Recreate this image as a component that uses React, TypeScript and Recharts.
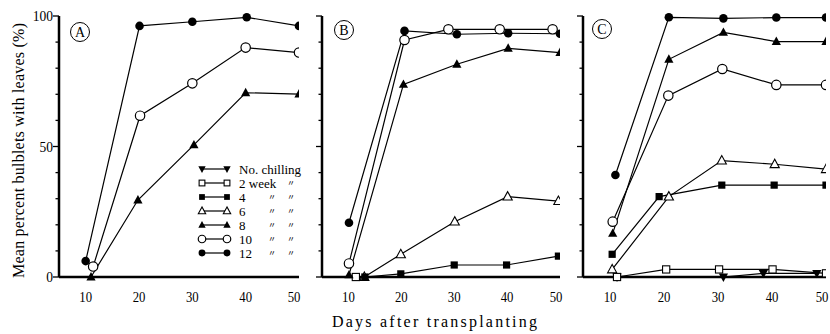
import React from 'react';
import { LineChart, Line, XAxis, YAxis, Customized } from 'recharts';

// ---------- data (day after transplanting, % bulblets with leaves) ----------
const dayTicks = [10, 20, 30, 40, 50];
const pctTicks = [0, 10, 20, 30, 40, 50, 60, 70, 80, 90, 100];
const pctLabels = [0, 50, 100];

const legendLabels = ['No. chilling', '2 week', '4', '6', '8', '10', '12'];

// Panel A
const a8 = [{ d: 11, v: 0 }, { d: 19.8, v: 29.5 }, { d: 30.3, v: 50.6 }, { d: 40, v: 70.6 }, { d: 50, v: 70.1 }];
const a10 = [{ d: 11.4, v: 4 }, { d: 20.2, v: 61.8 }, { d: 30, v: 74.2 }, { d: 40, v: 87.9 }, { d: 50, v: 86 }];
const a12 = [{ d: 10, v: 6.1 }, { d: 20.1, v: 96.2 }, { d: 30, v: 97.8 }, { d: 40.2, v: 99.5 }, { d: 50, v: 96.2 }];

// Panel B
const b2 = [{ d: 11.4, v: 0 }];
const b4 = [{ d: 13.1, v: 0 }, { d: 19.9, v: 1.2 }, { d: 30, v: 4.6 }, { d: 39.9, v: 4.6 }, { d: 49.7, v: 8 }];
const b6 = [{ d: 13, v: 0 }, { d: 19.9, v: 8.7 }, { d: 30.1, v: 21.2 }, { d: 40.1, v: 30.8 }, { d: 49.7, v: 29.1 }];
const b8 = [{ d: 10.1, v: 0.8 }, { d: 20.4, v: 73.8 }, { d: 30.5, v: 81.5 }, { d: 40.2, v: 87.6 }, { d: 50, v: 86 }];
const b10 = [{ d: 10.1, v: 5.2 }, { d: 20.6, v: 90.8 }, { d: 28.9, v: 94.9 }, { d: 38.6, v: 94.9 }, { d: 48.6, v: 94.9 }];
const b12 = [{ d: 10.1, v: 20.8 }, { d: 20.6, v: 94.3 }, { d: 30.5, v: 93 }, { d: 40.2, v: 93.4 }, { d: 50, v: 93.2 }];

// Panel C
const c0 = [{ d: 11.3, v: 0 }, { d: 31, v: 0 }, { d: 38.4, v: 1.4 }, { d: 48.3, v: 1.4 }];
const c2 = [{ d: 11.3, v: 0 }, { d: 20.4, v: 2.9 }, { d: 30.2, v: 2.9 }, { d: 40.1, v: 2.9 }, { d: 50, v: 1.4 }];
const c4 = [{ d: 10.4, v: 8.7 }, { d: 19.1, v: 30.8 }, { d: 30.7, v: 35.2 }, { d: 40.4, v: 35.2 }, { d: 50, v: 35.2 }];
const c6 = [{ d: 10.4, v: 2.9 }, { d: 20.9, v: 30.8 }, { d: 30.7, v: 44.6 }, { d: 40.5, v: 43.2 }, { d: 50, v: 41.3 }];
const c8 = [{ d: 10.5, v: 16.7 }, { d: 20.9, v: 83.4 }, { d: 31, v: 93.7 }, { d: 40.8, v: 90.2 }, { d: 50, v: 90.2 }];
const c10 = [{ d: 10.5, v: 21.2 }, { d: 20.8, v: 69.5 }, { d: 30.8, v: 79.7 }, { d: 40.8, v: 73.6 }, { d: 50, v: 73.6 }];
const c12 = [{ d: 11, v: 39.1 }, { d: 20.9, v: 99.5 }, { d: 31, v: 99.1 }, { d: 40.8, v: 99.4 }, { d: 50, v: 99.4 }];

// ---------- styling ----------
const FONT = 'Liberation Serif';
const CJK = 'Noto Sans CJK JP';
const INK = '#000';
const tStyle: React.CSSProperties = { fontFamily: FONT };

type Kind = 'fi' | 'os' | 'fs' | 'ot' | 'ft' | 'oc' | 'fc';
const legendKinds: Kind[] = ['fi', 'os', 'fs', 'ot', 'ft', 'oc', 'fc'];

function Marker({ cx, cy, kind, s = 1 }: { cx: number; cy: number; kind: Kind; s?: number }) {
  if (cx == null || cy == null) return null;
  switch (kind) {
    case 'fc':
      return <circle cx={cx} cy={cy} r={4.3 * s} fill={INK} />;
    case 'oc':
      return <circle cx={cx} cy={cy} r={4.7 * s} fill="#fff" stroke={INK} strokeWidth={1.2} />;
    case 'ft':
    case 'ot': {
      const pts = `${cx},${cy - 5 * s} ${cx - 4.6 * s},${cy + 3.4 * s} ${cx + 4.6 * s},${cy + 3.4 * s}`;
      return kind === 'ft' ? (
        <polygon points={pts} fill={INK} />
      ) : (
        <polygon points={pts} fill="#fff" stroke={INK} strokeWidth={1.1} />
      );
    }
    case 'fi': {
      const pts = `${cx},${cy + 5 * s} ${cx - 4.6 * s},${cy - 3.4 * s} ${cx + 4.6 * s},${cy - 3.4 * s}`;
      return <polygon points={pts} fill={INK} />;
    }
    case 'fs':
      return <rect x={cx - 3.6 * s} y={cy - 3.6 * s} width={7.2 * s} height={7.2 * s} fill={INK} />;
    case 'os':
      return <rect x={cx - 3.6 * s} y={cy - 3.6 * s} width={7.2 * s} height={7.2 * s} fill="#fff" stroke={INK} strokeWidth={1.1} />;
  }
  return null;
}

const dotFor = (id: string, kind: Kind) => (p: any) => (
  <Marker key={`${id}-${p.index}`} cx={p.cx} cy={p.cy} kind={kind} />
);

function series(id: string, data: { d: number; v: number }[], kind: Kind) {
  return (
    <Line
      key={id}
      data={data}
      dataKey="v"
      type="linear"
      stroke={INK}
      strokeWidth={1.2}
      dot={dotFor(id, kind)}
      activeDot={false}
      isAnimationActive={false}
      legendType="none"
    />
  );
}

const YTick = (props: any) => {
  const { x, y, payload, showLabels } = props;
  const v = payload.value;
  const len = v % 50 === 0 ? 6 : 3.5;
  return (
    <g>
      <line x1={x - len} x2={x} y1={y} y2={y} stroke={INK} strokeWidth={1.3} />
      {showLabels && pctLabels.includes(v) && (
        <text
          transform={`translate(${x - 6},${y + 5}) scale(0.9,1)`}
          textAnchor="end"
          fontSize={15}
          style={tStyle}
          fill={INK}
        >
          {v}
        </text>
      )}
    </g>
  );
};

const XTick = (props: any) => {
  const { x, y, payload } = props;
  return (
    <text
      transform={`translate(${x},${y + 25}) scale(0.85,1)`}
      textAnchor="middle"
      fontSize={15}
      style={tStyle}
      fill={INK}
    >
      {payload.value}
    </text>
  );
};

const PanelLetter = ({ cx, cy, letter }: { cx: number; cy: number; letter: string }) => (
  <g>
    <circle cx={cx} cy={cy} r={9.5} fill="#fff" stroke={INK} strokeWidth={1} />
    <text x={cx} y={cy + 5} textAnchor="middle" fontSize={14} style={tStyle} fill={INK}>
      {letter}
    </text>
  </g>
);

const LegendBox = () => {
  const rowY0 = 169;
  const step = 14;
  return (
    <g>
      {legendLabels.map((lab, i) => {
        const y = rowY0 + i * step;
        const k = legendKinds[i];
        return (
          <g key={lab}>
            <line x1={202} x2={227} y1={y} y2={y} stroke={INK} strokeWidth={1.2} />
            <Marker cx={202} cy={y} kind={k} s={0.8} />
            <Marker cx={227} cy={y} kind={k} s={0.8} />
            <text x={239} y={y + 4.5} fontSize={13} style={tStyle} fill={INK}>
              {lab}
            </text>
            {i >= 1 && (
              <text x={291} y={y + 3} fontSize={8} textAnchor="middle" fill={INK} style={{ fontFamily: CJK }}>
                〃
              </text>
            )}
            {i >= 2 && (
              <text x={272} y={y + 3} fontSize={8} textAnchor="middle" fill={INK} style={{ fontFamily: CJK }}>
                〃
              </text>
            )}
          </g>
        );
      })}
    </g>
  );
};

const YLabel = () => (
  <g transform="translate(24,150.5) rotate(-90)">
    <text
      x={0}
      y={0}
      textAnchor="middle"
      fontSize={16}
      style={tStyle}
      fill={INK}
      textLength={255}
      lengthAdjust="spacing"
    >
      Mean percent bulblets with leaves (%)
    </text>
  </g>
);

const XLabel = () => (
  <text
    x={172.5}
    y={327}
    textAnchor="middle"
    fontSize={16}
    style={tStyle}
    fill={INK}
    textLength={205}
    lengthAdjust="spacing"
  >
    Days after transplanting
  </text>
);

const H = 334;
const MARGIN = { top: 16, right: 3, bottom: 27, left: 0 };

function Axes({ yw, showLabels }: { yw: number; showLabels: boolean }) {
  return [
    <XAxis
      key="x"
      dataKey="d"
      type="number"
      domain={[5, 50]}
      ticks={dayTicks}
      tickLine={false}
      tickSize={0}
      tickMargin={0}
      height={30}
      axisLine={{ stroke: INK, strokeWidth: 2.5 }}
      tick={<XTick />}
      allowDataOverflow
    />,
    <YAxis
      key="y"
      type="number"
      domain={[0, 100]}
      ticks={pctTicks}
      width={yw}
      tickLine={false}
      tickSize={0}
      tickMargin={0}
      axisLine={{ stroke: INK, strokeWidth: 2.5 }}
      tick={<YTick showLabels={showLabels} />}
      interval={0}
    />,
  ];
}

export default function App() {
  return (
    <div
      style={{
        position: 'absolute',
        left: 0,
        top: 0,
        width: 830,
        height: 334,
        background: '#fff',
        overflow: 'hidden',
        fontFamily: FONT,
      }}
    >
      <div style={{ position: 'absolute', left: 0, top: 0 }}>
        <LineChart width={302} height={H} margin={MARGIN}>
          {Axes({ yw: 59, showLabels: true })}
          {series('a8', a8, 'ft')}
          {series('a10', a10, 'oc')}
          {series('a12', a12, 'fc')}
          <Customized component={<YLabel />} />
          <Customized component={<PanelLetter cx={80} cy={32} letter="A" />} />
          <Customized component={<LegendBox />} />
        </LineChart>
      </div>
      <div style={{ position: 'absolute', left: 262, top: 0 }}>
        <LineChart width={302} height={H} margin={{ ...MARGIN, right: 4 }}>
          {Axes({ yw: 60, showLabels: false })}
          {series('b2', b2, 'os')}
          {series('b6', b6, 'ot')}
          {series('b4', b4, 'fs')}
          {series('b8', b8, 'ft')}
          {series('b12', b12, 'fc')}
          {series('b10', b10, 'oc')}
          <Customized component={<PanelLetter cx={82} cy={30} letter="B" />} />
          <Customized component={<XLabel />} />
        </LineChart>
      </div>
      <div style={{ position: 'absolute', left: 523, top: 0 }}>
        <LineChart width={307} height={H} margin={{ ...MARGIN, right: 4 }}>
          {Axes({ yw: 60, showLabels: false })}
          {series('c0', c0, 'fi')}
          {series('c2', c2, 'os')}
          {series('c4', c4, 'fs')}
          {series('c6', c6, 'ot')}
          {series('c10', c10, 'oc')}
          {series('c8', c8, 'ft')}
          {series('c12', c12, 'fc')}
          <Customized component={<PanelLetter cx={79} cy={29} letter="C" />} />
        </LineChart>
      </div>
    </div>
  );
}
